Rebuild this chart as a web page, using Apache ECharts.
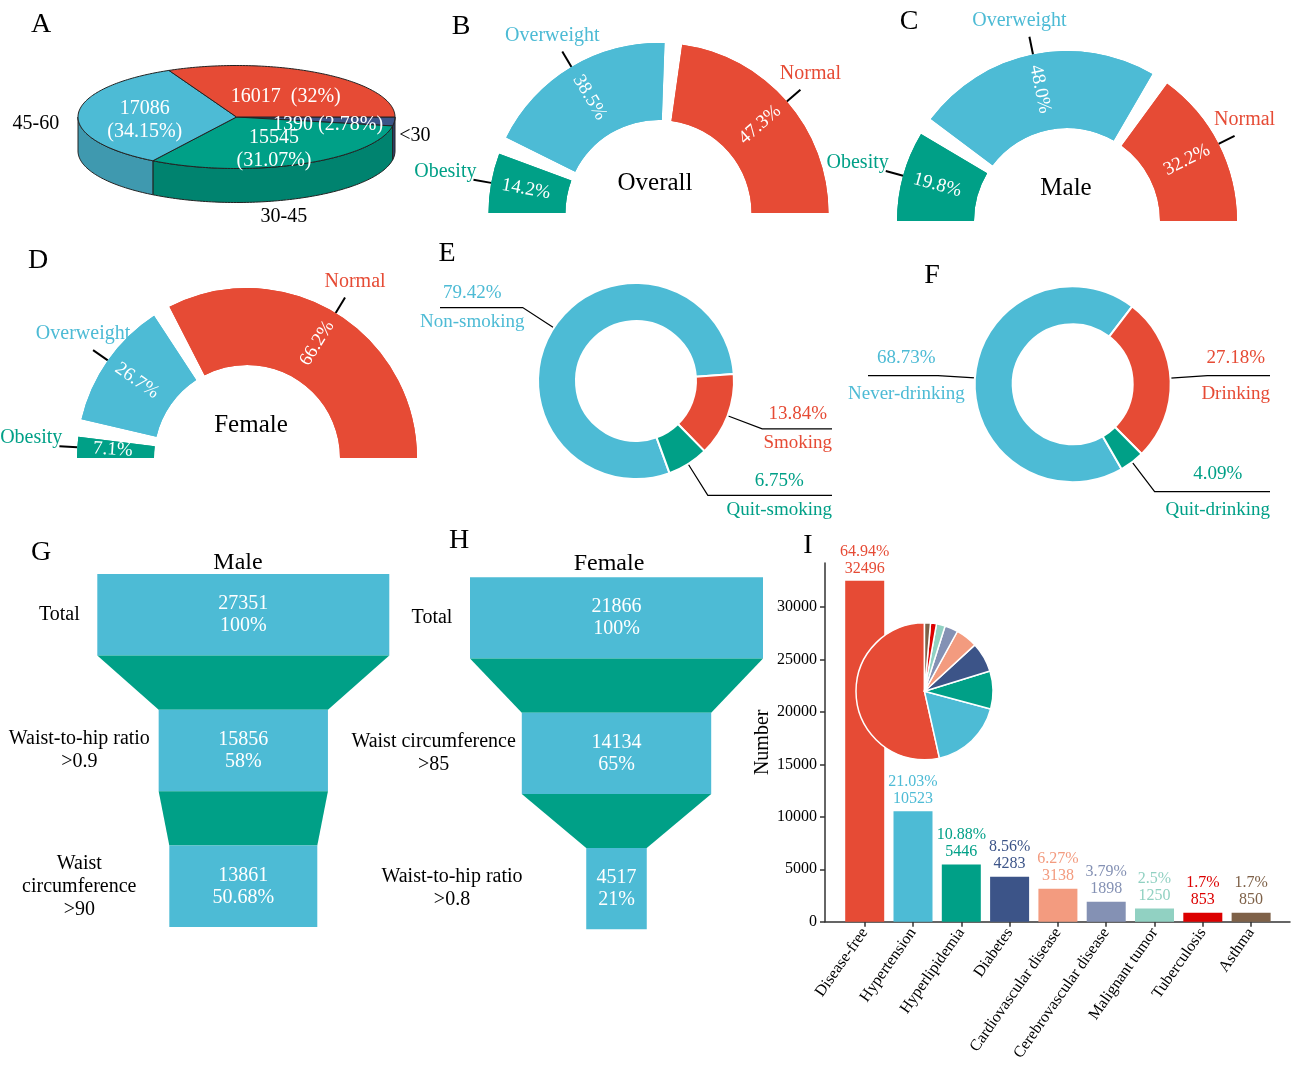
<!DOCTYPE html>
<html>
<head>
<meta charset="utf-8">
<script src="https://cdn.jsdelivr.net/npm/echarts@6.0.0/dist/echarts.min.js"></script>
<style>
html, body { margin: 0; padding: 0; background: #fff; }
#main { width: 1294px; height: 1067px; }
</style>
</head>
<body>
<div id="main"></div>
<script>
var FONT = 'Liberation Serif';
var RED = '#E64B35', BLUE = '#4DBBD5', GREEN = '#00A087', NAVY = '#3C5488';

// A: age groups
var ageNames = ['<30', '30-45', '45-60', ''];
var ageValues = [1390, 15545, 17086, 16017];
var agePercents = ['2.78%', '31.07%', '34.15%', '32%'];
var ageColors = [NAVY, GREEN, BLUE, RED];

// B, C, D: BMI groups (%)
var bmiNames = ['Obesity', 'Overweight', 'Normal'];
var bmiOverall = [14.2, 38.5, 47.3];
var bmiMale = [19.8, 48.0, 32.2];
var bmiFemale = [7.1, 26.7, 66.2];
var bmiColors = [GREEN, BLUE, RED];

// E: smoking, F: drinking (%)
var smokeNames = ['Non-smoking', 'Smoking', 'Quit-smoking'];
var smokeValues = [79.42, 13.84, 6.75];
var drinkNames = ['Never-drinking', 'Drinking', 'Quit-drinking'];
var drinkValues = [68.73, 27.18, 4.09];
var habitColors = [BLUE, RED, GREEN];

// G, H: funnels
var maleStages = ['Total', 'Waist-to-hip ratio\n>0.9', 'Waist\ncircumference\n>90'];
var maleCounts = [27351, 15856, 13861];
var malePercents = ['100%', '58%', '50.68%'];
var femaleStages = ['Total', 'Waist circumference\n>85', 'Waist-to-hip ratio\n>0.8'];
var femaleCounts = [21866, 14134, 4517];
var femalePercents = ['100%', '65%', '21%'];

// I: diseases
var diseases = ['Disease-free', 'Hypertension', 'Hyperlipidemia', 'Diabetes', 'Cardiovascular disease',
  'Cerebrovascular disease', 'Malignant tumor', 'Tuberculosis', 'Asthma'];
var diseaseCounts = [32496, 10523, 5446, 4283, 3138, 1898, 1250, 853, 850];
var diseasePercents = ['64.94%', '21.03%', '10.88%', '8.56%', '6.27%', '3.79%', '2.5%', '1.7%', '1.7%'];
var diseaseColors = ['#E64B35', '#4DBBD5', '#00A087', '#3C5488', '#F39B7F', '#8491B4', '#91D1C2', '#DC0000', '#7E6148'];
var yTicks = [0, 5000, 10000, 15000, 20000, 25000, 30000];
var xTicks = [0, 1, 2, 3, 4, 5, 6, 7, 8];

var myChart = echarts.init(document.getElementById('main'));

// text measuring for the funnel side labels
var measureCtx = document.createElement('canvas').getContext('2d');
function textWidth(s, size) {
  measureCtx.font = size + 'px "' + FONT + '"';
  return Math.max.apply(null, s.split('\n').map(function (l) { return measureCtx.measureText(l).width; }));
}

function shade(hex, k) {
  var n = parseInt(hex.slice(1), 16);
  var r = Math.round(((n >> 16) & 255) * k), g = Math.round(((n >> 8) & 255) * k), b = Math.round((n & 255) * k);
  return 'rgb(' + r + ',' + g + ',' + b + ')';
}

var ageTotal = ageValues.reduce(function (a, b) { return a + b; }, 0);

// 3D pie drawn on a unit ellipse
function renderAge(params, api) {
  var i = params.dataIndex;
  var v = api.value(1);
  var s = 0;
  for (var j = 0; j < i; j++) s += ageValues[j];
  var t1 = -s / ageTotal * 2 * Math.PI;
  var t2 = -(s + v) / ageTotal * 2 * Math.PI;
  var depth = 34;
  function pt(t, d) {
    var p = api.coord([Math.cos(t), Math.sin(t)]);
    return [p[0], p[1] + (d || 0)];
  }
  var c = api.coord([0, 0]);
  var color = ageColors[i];
  var children = [];
  var hi = t1, lo = Math.max(t2, -Math.PI);
  if (lo < hi) {
    var m = Math.max(2, Math.ceil((hi - lo) / 0.02));
    var wall = [], k;
    for (k = 0; k <= m; k++) wall.push(pt(hi - (hi - lo) * k / m));
    for (k = m; k >= 0; k--) wall.push(pt(hi - (hi - lo) * k / m, depth));
    children.push({ type: 'polygon', shape: { points: wall },
      style: { fill: shade(color, 0.82), stroke: '#222', lineWidth: 1 } });
  }
  var n = Math.max(2, Math.ceil((t1 - t2) / 0.02));
  var top = [c];
  for (var q = 0; q <= n; q++) top.push(pt(t1 - (t1 - t2) * q / n));
  children.push({ type: 'polygon', shape: { points: top },
    style: { fill: color, stroke: '#222', lineWidth: 1 } });
  var tm = (t1 + t2) / 2;
  var lp = api.coord([0.58 * Math.cos(tm), 0.58 * Math.sin(tm)]);
  var sep = (i === 1 || i === 2) ? '\n' : (i === 3 ? '  ' : ' ');
  children.push({ type: 'text', z2: 100, x: lp[0], y: lp[1] + 5,
    style: { text: v + sep + '(' + agePercents[i] + ')', fill: '#fff', font: '20px "' + FONT + '"',
      align: 'center', verticalAlign: 'middle', lineHeight: 23 } });
  if (ageNames[i]) {
    var op = api.coord([1.12 * Math.cos(tm), 1.12 * Math.sin(tm)]);
    var cs = Math.cos(tm), sn = Math.sin(tm);
    var extra = sn < 0 ? -sn * depth * 1.2 : 0;
    var al = cs < -0.5 ? 'right' : (cs > 0.5 ? 'left' : 'center');
    var dx = al === 'center' ? -25 : (al === 'left' ? -14 : 0);
    children.push({ type: 'text', z2: 100, x: op[0] + dx, y: op[1] + extra + 10,
      style: { text: ageNames[i], fill: '#000', font: '20px "' + FONT + '"',
        align: al, verticalAlign: 'middle' } });
  }
  return { type: 'group', children: children };
}

function funnelRender(counts, percents, stages) {
  return function (params, api) {
    var i = params.dataIndex;
    var v = counts[i];
    var tl = api.coord([-v / 2, i]);
    var br = api.coord([v / 2, i + 0.6]);
    var mid = api.coord([0, i + 0.3]);
    var left0 = api.coord([-counts[0] / 2, 0])[0];
    var lx = i === 0 ? left0 - 38 : Math.min(left0 - 18, tl[0] - 6 - textWidth(stages[i], 20) / 2);
    var children = [
      { type: 'rect', shape: { x: tl[0], y: tl[1], width: br[0] - tl[0], height: br[1] - tl[1] },
        style: { fill: BLUE } },
      { type: 'text', z2: 10, x: mid[0], y: mid[1],
        style: { text: v + '\n' + percents[i], fill: '#fff', font: '20px "' + FONT + '"',
          align: 'center', verticalAlign: 'middle', lineHeight: 22 } },
      { type: 'text', z2: 10, x: lx, y: mid[1],
        style: { text: stages[i], fill: '#000', font: '20px "' + FONT + '"',
          align: 'center', verticalAlign: 'middle', lineHeight: 23 } }
    ];
    if (i < counts.length - 1) {
      var vn = counts[i + 1];
      children.push({ type: 'polygon', shape: { points: [
        api.coord([-v / 2, i + 0.6]), api.coord([v / 2, i + 0.6]),
        api.coord([vn / 2, i + 1]), api.coord([-vn / 2, i + 1])] },
        style: { fill: GREEN } });
    }
    return { type: 'group', children: children };
  };
}

function bmiLabelLayout(cx) {
  return function (params) {
    var pts = params.labelLinePoints;
    if (!pts) return;
    var end = pts[pts.length - 1];
    if (params.dataIndex === 0) {
      return { x: end[0] + 3, y: end[1] + 2, align: 'right', verticalAlign: 'bottom', labelLinePoints: pts };
    }
    return { x: end[0] + (end[0] > cx ? 10 : -10), y: end[1] - 6, align: 'center',
      verticalAlign: 'bottom', labelLinePoints: pts };
  };
}

function bmiSeries(values, center) {
  var data = values.map(function (v, i) {
    return { name: bmiNames[i], value: v, itemStyle: { color: bmiColors[i] } };
  });
  var base = { type: 'pie', center: center, radius: [93, 170], startAngle: 183, endAngle: -3,
    padAngle: 6, silent: true, avoidLabelOverlap: false, data: data };
  var outer = Object.assign({}, base, {
    label: { show: true, position: 'outside', color: 'inherit', fontSize: 20, fontFamily: FONT },
    labelLine: { show: true, length: 18, length2: 0, lineStyle: { color: '#000', width: 2 } },
    labelLayout: bmiLabelLayout(center[0])
  });
  var inner = Object.assign({}, base, {
    label: { show: true, position: 'inside', rotate: 'radial', color: '#fff', fontSize: 19, fontFamily: FONT,
      formatter: function (p) { return p.value.toFixed(1) + '%'; } },
    labelLine: { show: false }
  });
  return [outer, inner];
}

// labels pushed to the panel edges, leader line running under the label
function habitLayout(cx, edges) {
  return function (params) {
    var pts = params.labelLinePoints;
    if (!pts) return;
    var r = params.labelRect;
    var isLeft = pts[0][0] < cx;
    var y = pts[1][1];
    var x = isLeft ? edges[0] + r.width / 2 : edges[1] - r.width / 2;
    var far = isLeft ? edges[0] + 20 : edges[1];
    return { x: x, y: y, align: 'center', verticalAlign: 'middle',
      labelLinePoints: [pts[0], pts[1], [far, y]] };
  };
}

function habitSeries(names, values, center, startAngle, lineHeight, edges) {
  return {
    type: 'pie', center: center, radius: [60, 98], startAngle: startAngle, silent: true,
    avoidLabelOverlap: false,
    itemStyle: { borderColor: '#fff', borderWidth: 2 },
    data: values.map(function (v, i) {
      return { name: names[i], value: v, itemStyle: { color: habitColors[i] } };
    }),
    label: { show: true, position: 'outside', color: 'inherit',
      fontSize: 19, fontFamily: FONT, lineHeight: lineHeight, formatter: '{c}%\n{b}' },
    labelLine: { show: true, length: 37, length2: 10, lineStyle: { color: '#000', width: 1.2 } },
    labelLayout: habitLayout(center[0], edges)
  };
}

function txt(s, x, y, size) {
  return { type: 'text', x: x, y: y, silent: true,
    style: { text: s, fill: '#000', font: size + 'px "' + FONT + '"', align: 'center', verticalAlign: 'middle',
      textAlign: 'center', textVerticalAlign: 'middle' } };
}

var series = [];
series.push({ type: 'custom', coordinateSystem: 'cartesian2d', xAxisIndex: 0, yAxisIndex: 0, clip: false,
  silent: true, renderItem: renderAge, data: ageValues.map(function (v, i) { return [i, v]; }) });
series = series.concat(bmiSeries(bmiOverall, [658.5, 213]));
series = series.concat(bmiSeries(bmiMale, [1067, 221]));
series = series.concat(bmiSeries(bmiFemale, [247, 458]));
series.push(habitSeries(smokeNames, smokeValues, [636, 381], 290, 29, [420, 832]));
series.push(habitSeries(drinkNames, drinkValues, [1072.7, 384.3], 300, 36, [848, 1270]));
series.push({ type: 'custom', coordinateSystem: 'cartesian2d', xAxisIndex: 1, yAxisIndex: 1, clip: false,
  silent: true, renderItem: funnelRender(maleCounts, malePercents, maleStages),
  data: maleCounts.map(function (v, i) { return [0, i]; }) });
series.push({ type: 'custom', coordinateSystem: 'cartesian2d', xAxisIndex: 2, yAxisIndex: 2, clip: false,
  silent: true, renderItem: funnelRender(femaleCounts, femalePercents, femaleStages),
  data: femaleCounts.map(function (v, i) { return [0, i]; }) });
series.push({ type: 'bar', xAxisIndex: 3, yAxisIndex: 3, barWidth: 39, silent: true,
  data: diseaseCounts.map(function (v, i) { return [i, v]; }),
  itemStyle: { color: function (p) { return diseaseColors[p.dataIndex]; } },
  label: { show: true, position: 'top', distance: 4, color: 'inherit', fontSize: 16, fontFamily: FONT,
    lineHeight: 17, formatter: function (p) { return diseasePercents[p.dataIndex] + '\n' + p.value[1]; } } });
series.push({ type: 'pie', center: [924.5, 691.3], radius: 68.5, startAngle: 90, clockwise: false, silent: true,
  data: diseaseCounts.map(function (v, i) { return { name: diseases[i], value: v, itemStyle: { color: diseaseColors[i] } }; }),
  label: { show: false }, labelLine: { show: false },
  itemStyle: { borderColor: '#fff', borderWidth: 1.5 } });

var hidden = { show: false };
var option = {
  animation: false,
  textStyle: { fontFamily: FONT },
  grid: [
    { left: 78, top: 65.5, width: 317, height: 103, outerBoundsMode: 'none' },
    { left: 97.3, top: 574, width: 292, height: 353, outerBoundsMode: 'none' },
    { left: 470, top: 577.3, width: 293, height: 352, outerBoundsMode: 'none' },
    { left: 825, top: 563, width: 465, height: 358.7, outerBoundsMode: 'none' }
  ],
  xAxis: [
    { gridIndex: 0, type: 'value', min: -1, max: 1, show: false },
    { gridIndex: 1, type: 'value', min: -maleCounts[0] / 2, max: maleCounts[0] / 2, show: false },
    { gridIndex: 2, type: 'value', min: -femaleCounts[0] / 2, max: femaleCounts[0] / 2, show: false },
    { gridIndex: 3, type: 'value', min: -0.822, max: 8.805, splitLine: hidden,
      axisLine: { onZero: false, lineStyle: { color: '#333', width: 1.5 } },
      axisTick: { show: true, length: 5, customValues: xTicks, lineStyle: { color: '#333', width: 1.5 } },
      axisLabel: { customValues: xTicks, rotate: 55, margin: 8, color: '#000', fontSize: 16, fontFamily: FONT,
        formatter: function (v) { return diseases[v]; } } }
  ],
  yAxis: [
    { gridIndex: 0, type: 'value', min: -1, max: 1, show: false },
    { gridIndex: 1, type: 'value', min: 0, max: 2.6, inverse: true, show: false },
    { gridIndex: 2, type: 'value', min: 0, max: 2.6, inverse: true, show: false },
    { gridIndex: 3, type: 'value', min: 0, max: 34200, splitLine: hidden,
      name: 'Number', nameLocation: 'middle', nameRotate: 90, nameGap: 48,
      nameTextStyle: { color: '#000', fontSize: 20, fontFamily: FONT },
      axisLine: { show: true, onZero: false, lineStyle: { color: '#333', width: 1.5 } },
      axisTick: { show: true, length: 5, customValues: yTicks, lineStyle: { color: '#333', width: 1.5 } },
      axisLabel: { customValues: yTicks, margin: 8, color: '#000', fontSize: 16, fontFamily: FONT,
        formatter: function (v) { return String(v); } } }
  ],
  graphic: [
    txt('A', 41, 25, 28), txt('B', 461, 27, 28), txt('C', 909, 22, 28),
    txt('D', 38, 261, 28), txt('E', 447, 254, 28), txt('F', 932, 276, 28),
    txt('G', 41, 553, 28), txt('H', 459, 541, 28), txt('I', 808, 546, 28),
    txt('Overall', 655, 183, 25), txt('Male', 1066, 188, 25), txt('Female', 251, 425, 25),
    txt('Male', 238, 563, 24), txt('Female', 609, 564, 24)
  ],
  series: series
};
myChart.setOption(option);
</script>
</body>
</html>
